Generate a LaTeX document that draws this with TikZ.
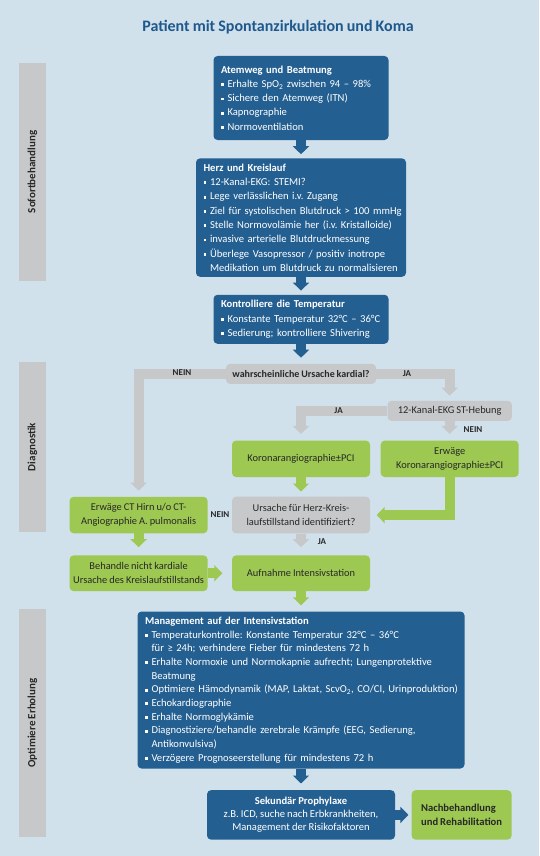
\documentclass[tikz,border=0pt]{standalone}
\usepackage{fontspec}
\setmainfont{Carlito}[WordSpace=0.85]
\usetikzlibrary{arrows.meta,positioning}
\frenchspacing

\definecolor{bgblue}{RGB}{208,225,236}
\definecolor{boxblue}{RGB}{36,95,145}
\definecolor{titleblue}{RGB}{31,88,140}
\definecolor{boxgray}{RGB}{198,200,202}
\definecolor{boxgreen}{RGB}{157,201,82}
\definecolor{txtdark}{RGB}{40,40,40}

\newcommand{\itm}[1]{\par\noindent\makebox[6.5pt][l]{\rule[1.3pt]{2.8pt}{2.8pt}}\mbox{#1}}
\newcommand{\ctn}[1]{\par\noindent\hspace*{6.5pt}\mbox{#1}}

\begin{document}
\begin{tikzpicture}[
    x=1pt,y=-1pt,
    every node/.style={inner sep=0pt},
    bluebox/.style={rectangle,rounded corners=4pt,fill=boxblue,text=white,align=left,inner xsep=7.5pt,font=\fontsize{10.6}{14.3}\selectfont},
    greenbox/.style={rectangle,rounded corners=4pt,fill=boxgreen,text=txtdark,align=center,minimum width=138pt,minimum height=36.4pt,font=\fontsize{10.4}{14}\selectfont},
    graybox/.style={rectangle,rounded corners=4pt,fill=boxgray,text=txtdark,align=center,font=\fontsize{10.4}{14}\selectfont},
    side/.style={rectangle,fill=boxgray,rotate=90,minimum height=27pt,text=txtdark,font=\fontsize{11}{12}\selectfont\bfseries},
    lbl/.style={text=txtdark,font=\fontsize{9}{10}\selectfont\bfseries},
    barrow/.style={draw=boxblue,line width=10pt,-{Triangle[length=8pt,width=16pt]},shorten >=5pt},
    garrow/.style={draw=boxgray,line width=10pt,-{Triangle[length=8pt,width=16pt]},shorten >=6pt},
    narrow/.style={draw=boxgreen,line width=10pt,-{Triangle[length=8pt,width=16pt]},shorten >=6pt}
]

% background
\fill[bgblue] (0,0) rectangle (539,856);

\node[text=titleblue,font=\fontsize{16}{18}\selectfont\bfseries] (title) at (278,27) {Patient mit Spontanzirkulation und Koma};

% phases
\node[side,minimum width=218pt] (sofort) at (32.5,172) {Sofortbehandlung};
\node[side,minimum width=170pt] (diag) at (32.5,447) {Diagnostik};
\node[side,minimum width=228pt] (erholung) at (32.5,723) {Optimiere Erholung};

% Sofortbehandlung
\node[bluebox,minimum width=175pt,minimum height=84pt,text width=160pt] (atem) at (301,98) {
\mbox{\textbf{Atemweg und Beatmung}}
\itm{Erhalte SpO\textsubscript{2} zwischen 94 – 98\%}
\itm{Sichere den Atemweg (ITN)}
\itm{Kapnographie}
\itm{Normoventilation}
};

\node[bluebox,minimum width=210pt,minimum height=118.4pt,text width=195pt,below=18pt of atem] (herz) {
\mbox{\textbf{Herz und Kreislauf}}
\itm{12-Kanal-EKG: STEMI?}
\itm{Lege verlässlichen i.v. Zugang}
\itm{Ziel für systolischen Blutdruck > 100 mmHg}
\itm{Stelle Normovolämie her (i.v. Kristalloide)}
\itm{invasive arterielle Blutdruckmessung}
\itm{Überlege Vasopressor / positiv inotrope}
\ctn{Medikation um Blutdruck zu normalisieren}
};

\node[bluebox,minimum width=175pt,minimum height=49pt,text width=160pt,below=17.6pt of herz] (temp) {
\mbox{\textbf{Kontrolliere die Temperatur}}
\itm{Konstante Temperatur 32°C – 36°C}
\itm{Sedierung; kontrolliere Shivering}
};

% Diagnostik
\node[graybox,minimum width=150pt,minimum height=20pt,font=\fontsize{10}{12}\selectfont\bfseries,below=19.7pt of temp] (kardial) {wahrscheinliche Ursache kardial?};

\node[greenbox,below=56.3pt of kardial] (koro) {Koronarangiographie±PCI};
\node[greenbox,right=10.3pt of koro] (erwkoro) {Erwäge\\Koronarangiographie±PCI};
\node[graybox,minimum width=124.4pt,minimum height=20pt,above=19.3pt of erwkoro] (ekg) {12-Kanal-EKG ST-Hebung};

\node[graybox,minimum width=138pt,minimum height=36.7pt,below=19.3pt of koro] (ursache) {Ursache für Herz-Kreis-\\laufstillstand identifiziert?};
\node[greenbox,left=24pt of ursache] (ct) {Erwäge CT Hirn u/o CT-\\Angiographie A. pulmonalis};

\node[greenbox,minimum height=35.7pt,below=21.6pt of ursache] (aufnahme) {Aufnahme Intensivstation};
\node[greenbox,minimum height=35.7pt,left=24pt of aufnahme] (behandle) {Behandle nicht kardiale\\Ursache des Kreislaufstillstands};

% Optimiere Erholung
\node[bluebox,minimum width=327pt,minimum height=157pt,text width=312pt,font=\fontsize{10.6}{13.7}\selectfont,below=20pt of aufnahme] (icu) {
\mbox{\textbf{Management auf der Intensivstation}}
\itm{Temperaturkontrolle: Konstante Temperatur 32°C – 36°C}
\ctn{für ≥ 24h; verhindere Fieber für mindestens 72 h}
\itm{Erhalte Normoxie und Normokapnie aufrecht; Lungenprotektive}
\ctn{Beatmung}
\itm{Optimiere Hämodynamik (MAP, Laktat, ScvO\textsubscript{2}, CO/CI, Urinproduktion)}
\itm{Echokardiographie}
\itm{Erhalte Normoglykämie}
\itm{Diagnostiziere/behandle zerebrale Krämpfe (EEG, Sedierung,}
\ctn{Antikonvulsiva)}
\itm{Verzögere Prognoseerstellung für mindestens 72 h}
};

\node[bluebox,align=center,minimum width=188pt,minimum height=49.4pt,font=\fontsize{10.6}{13}\selectfont,below=21.3pt of icu] (prophy) {
\textbf{Sekundär Prophylaxe}\\
z.B. ICD, suche nach Erbkrankheiten,\\
Management der Risikofaktoren
};
\node[greenbox,align=left,minimum width=100pt,minimum height=49.4pt,font=\fontsize{10.6}{13.4}\selectfont\bfseries,right=16.2pt of prophy] (reha) {Nachbehandlung\\und Rehabilitation};

% connectors
\draw[barrow,shorten >=4pt] (atem) -- (herz);
\draw[barrow,shorten >=4pt] (herz) -- (temp);
\draw[barrow,shorten >=6pt] (temp) -- (kardial);

\draw[garrow] (kardial.west) -| (ct.north);
\draw[garrow,shorten >=5pt] (kardial.east) -| (ekg.north);
\draw[garrow,shorten >=6.5pt] (ekg.west) -| (koro.north);
\draw[garrow,shorten >=6.5pt] (ekg) -- (erwkoro);

\draw[narrow,shorten >=5pt] (koro) -- (ursache);
\draw[narrow,shorten >=6.5pt] (erwkoro.south) |- (ursache.east);
\draw[garrow,shorten >=8pt] (ursache) -- (aufnahme);
\draw[narrow,shorten >=8pt] (ct) -- (behandle);
\draw[narrow,shorten >=9.5pt] (behandle) -- (aufnahme);
\draw[narrow] (aufnahme) -- (icu);

\draw[barrow,shorten >=6.5pt] (icu) -- (prophy);
\draw[barrow,shorten >=3pt] (prophy) -- (reha);

% labels
\node[lbl] (nein1) at (182,373) {NEIN};
\node[lbl] (ja1) at (407,374) {JA};
\node[lbl] (ja2) at (338.6,411) {JA};
\node[lbl] (nein2) at (473,430) {NEIN};
\node[lbl] (nein3) at (220,515) {NEIN};
\node[lbl] (ja3) at (322,542) {JA};

\end{tikzpicture}
\end{document}
